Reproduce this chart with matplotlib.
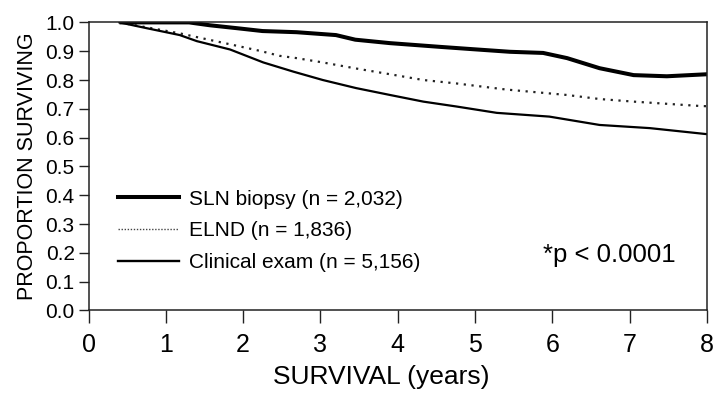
import matplotlib
matplotlib.use("Agg")
import matplotlib.pyplot as plt
from matplotlib.lines import Line2D

plt.rcParams['font.family'] = ['Liberation Sans', 'DejaVu Sans']

# survival curves (years, proportion surviving)
sln_years = [0.4, 1.3, 1.57, 1.95, 2.25, 2.69, 3.2, 3.45, 3.9, 4.55, 4.97, 5.45, 5.88, 6.19, 6.61, 7.05, 7.48, 8.0]
sln_surv = [1.0, 1.0, 0.99, 0.979, 0.97, 0.966, 0.956, 0.94, 0.928, 0.915, 0.907, 0.898, 0.894, 0.876, 0.841, 0.817, 0.813, 0.82]

elnd_years = [0.4, 0.75, 1.18, 1.4, 1.83, 2.22, 2.47, 2.69, 3.03, 3.46, 3.9, 4.33, 4.76, 5.4, 6.19, 6.61, 7.05, 7.9, 8.0]
elnd_surv = [1.0, 0.983, 0.962, 0.949, 0.924, 0.901, 0.884, 0.876, 0.861, 0.84, 0.82, 0.80, 0.788, 0.767, 0.748, 0.734, 0.725, 0.71, 0.709]

clin_years = [0.4, 0.75, 1.18, 1.4, 1.83, 2.26, 2.65, 3.03, 3.46, 3.9, 4.33, 4.76, 5.28, 5.96, 6.61, 7.26, 8.0]
clin_surv = [1.0, 0.98, 0.956, 0.935, 0.906, 0.861, 0.829, 0.80, 0.772, 0.748, 0.725, 0.708, 0.686, 0.673, 0.644, 0.633, 0.612]

labels = ['SLN biopsy (n = 2,032)', 'ELND (n = 1,836)', 'Clinical exam (n = 5,156)']
p_text = '*p < 0.0001'

fig = plt.figure(figsize=(7.2, 3.93), dpi=100)
ax = fig.add_axes([0.123, 0.210, 0.859, 0.733])

ax.plot(sln_years, sln_surv, color='black', lw=2.9, solid_capstyle='butt')
ax.plot(elnd_years, elnd_surv, color='#222222', lw=1.6, linestyle=(0, (1, 2.5)))
ax.plot(clin_years, clin_surv, color='black', lw=1.6)

ax.set_xlim(0, 8)
ax.set_ylim(0, 1.0)
ax.set_xticks(range(0, 9))
ax.set_yticks([i / 10 for i in range(11)])
ax.set_yticklabels(['%.1f' % (i / 10) for i in range(11)])
ax.tick_params(axis='y', direction='out', length=7, width=1, labelsize=15, pad=3, color='#222222')
ax.tick_params(axis='x', direction='out', length=9, width=1, labelsize=18, pad=7, color='#222222')
for s in ax.spines.values():
    s.set_linewidth(1.1)
    s.set_color('#222222')

ax.set_xlabel('SURVIVAL (years)', fontsize=19)
ax.set_ylabel('PROPORTION SURVIVING', fontsize=15.5)
ax.xaxis.set_label_coords(0.473, -0.19)
ax.yaxis.set_label_coords(-0.082, 0.5)

# legend handles
handles = [
    Line2D([], [], color='black', lw=2.9),
    Line2D([], [], color='#444444', lw=1.0, linestyle=(0, (1, 1.2))),
    Line2D([], [], color='black', lw=1.7),
]
ax.legend(handles, labels, loc='center left', bbox_to_anchor=(0.048, 0.276),
          frameon=False, fontsize=15, handlelength=2.9, handletextpad=0.5,
          labelspacing=0.62, borderpad=0, borderaxespad=0)

ax.text(0.735, 0.168, p_text, transform=ax.transAxes, fontsize=18.5, va='baseline', ha='left')

fig.savefig('out.png', dpi=100)
